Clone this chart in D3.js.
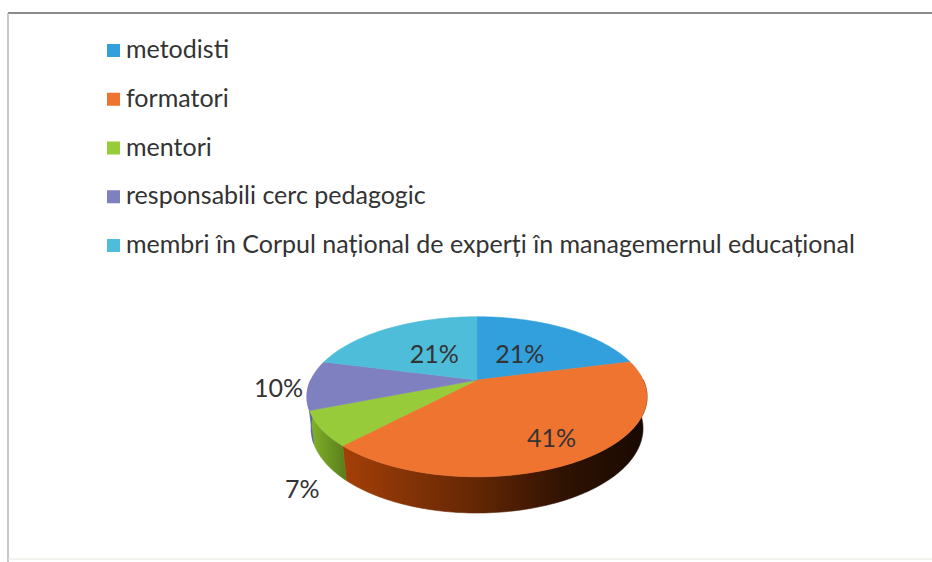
<!DOCTYPE html>
<html>
<head>
<meta charset="utf-8">
<script src="https://cdn.jsdelivr.net/npm/d3@7"></script>
<style>
  body { margin: 0; background: #fff; }
  svg { display: block; }
</style>
</head>
<body>
<div id="chart"></div>
<script>
var categories = [
  'metodisti',
  'formatori',
  'mentori',
  'responsabili cerc pedagogic',
  'membri în Corpul național de experți în managemernul educațional'
];
var values = [21, 41, 7, 10, 21];
var colors = ['#31a0dd', '#ee7430', '#97cb3a', '#7f80bf', '#4ebdd9'];

var width = 932;
var height = 562;
var fontFamily = 'Lato, "Open Sans", sans-serif';

var svg = d3.select('#chart').append('svg')
  .attr('width', width)
  .attr('height', height);

var defs = svg.append('defs');

// scanned page frame
svg.append('line')
  .attr('x1', 8).attr('y1', 13).attr('x2', width).attr('y2', 13)
  .attr('stroke', '#8a8a8a').attr('stroke-width', 2);
svg.append('line')
  .attr('x1', 8).attr('y1', 13).attr('x2', 8).attr('y2', height)
  .attr('stroke', '#b4b4b4').attr('stroke-width', 1.5);
svg.append('line')
  .attr('x1', 8).attr('y1', 559).attr('x2', width).attr('y2', 559)
  .attr('stroke', '#e4e4dc').attr('stroke-width', 1);

// legend
var legendY = d3.scalePoint().domain(categories).range([58, 253]);

var rows = svg.append('g').attr('class', 'legend')
  .selectAll('g')
  .data(categories)
  .enter().append('g')
    .attr('transform', function(d) { return 'translate(107,' + legendY(d) + ')'; });

rows.append('rect')
  .attr('x', 0)
  .attr('y', -14)
  .attr('width', 13)
  .attr('height', 13)
  .attr('fill', function(d, i) { return colors[i]; });

var legendText = rows.append('text')
  .attr('x', 19)
  .attr('font-family', fontFamily)
  .attr('font-size', 26)
  .attr('fill', '#333')
  .text(function(d) { return d; });

// fit the font so the longest line spans like in the scan
var longest = legendText.nodes()[categories.length - 1].getComputedTextLength();
var fontSize = 26 * 729 / longest;
legendText.attr('font-size', fontSize);

// 3d pie with a simple perspective camera
var cx = 477;
var cy = 380;
var F = 705;
var D = 4.24;
var phi = 27.4 * Math.PI / 180;
var H = 0.215;

function proj(a, r, y) {
  var X = r * Math.sin(a);
  var Z = -r * Math.cos(a);
  var up = y * Math.cos(phi) - Z * Math.sin(phi);
  var depth = D - (y * Math.sin(phi) + Z * Math.cos(phi));
  return [cx + X * F / depth, cy - up * F / depth];
}

function arcPoints(a0, a1, r, y) {
  var n = Math.max(2, Math.ceil(Math.abs(a1 - a0) / 0.02));
  return d3.range(n + 1).map(function(k) {
    return proj(a0 + (a1 - a0) * k / n, r, y);
  });
}

var line = d3.line();

var arcs = d3.pie().sort(null).value(function(d) { return d; })
  .startAngle(0).endAngle(2 * Math.PI)(values);

var pieG = svg.append('g').attr('class', 'pie');

// wall shading: lit on the left, almost black on the right
var shade = d3.scaleLinear()
  .domain([0, 0.12, 0.3, 0.5, 0.75, 1])
  .range([0.9, 0.6, 0.48, 0.36, 0.17, 0.08]);

// outer walls, only the near half is visible
arcs.forEach(function(d, i) {
  var a0 = Math.max(d.startAngle, Math.PI / 2);
  var a1 = Math.min(d.endAngle, 3 * Math.PI / 2);
  if (a1 <= a0) return;

  var gid = 'wall' + i;
  var grad = defs.append('linearGradient')
    .attr('id', gid)
    .attr('gradientUnits', 'userSpaceOnUse')
    .attr('x1', cx - 175).attr('y1', 0)
    .attr('x2', cx + 175).attr('y2', 0);
  shade.domain().forEach(function(o) {
    var c = d3.hsl(colors[i]);
    c.l *= shade(o);
    c.s = Math.min(1, c.s * 1.08);
    grad.append('stop').attr('offset', o).attr('stop-color', c + '');
  });

  var pts = arcPoints(a0, a1, 1, 0).concat(arcPoints(a1, a0, 1, -H));
  pieG.append('path')
    .attr('d', line(pts) + 'Z')
    .attr('fill', 'url(#' + gid + ')')
    .attr('stroke', 'url(#' + gid + ')')
    .attr('stroke-width', 0.6);
});

// top faces
arcs.forEach(function(d, i) {
  var pts = [proj(0, 0, 0)].concat(arcPoints(d.startAngle, d.endAngle, 1, 0));
  pieG.append('path')
    .attr('d', line(pts) + 'Z')
    .attr('fill', colors[i])
    .attr('stroke', colors[i])
    .attr('stroke-width', 0.6);
});

// data labels
var labelG = svg.append('g').attr('class', 'labels')
  .attr('font-family', fontFamily)
  .attr('font-size', fontSize)
  .attr('fill', '#333');

// bigger slices carry their label further out
var labelRadius = d3.scaleLinear().domain([21, 41]).range([0.45, 0.76]);

arcs.forEach(function(d, i) {
  var mid = (d.startAngle + d.endAngle) / 2;
  var txt = d.value + '%';
  if (d.value >= 15) {
    var p = proj(mid, labelRadius(d.value), 0);
    labelG.append('text')
      .attr('x', p[0]).attr('y', p[1])
      .attr('dy', '0.35em')
      .attr('text-anchor', 'middle')
      .text(txt);
  } else {
    var Z = -Math.cos(mid);
    var level = -H * Math.max(0, Math.min(1, Z / 0.4));
    var q = proj(mid, 1, level);
    var c = proj(0, 0, 0);
    var dx = q[0] - c[0], dy = q[1] - c[1];
    var len = Math.sqrt(dx * dx + dy * dy);
    dx /= len; dy /= len;
    var t = labelG.append('text')
      .attr('text-anchor', 'middle')
      .attr('dy', '0.35em')
      .text(txt);
    var w = t.node().getComputedTextLength();
    var push = (w / 2) * Math.abs(dx) + 10 * Math.abs(dy) + 6;
    t.attr('x', q[0] + dx * push).attr('y', q[1] + dy * push + 36 * Math.max(0, Z) - 6);
  }
});
</script>
</body>
</html>
